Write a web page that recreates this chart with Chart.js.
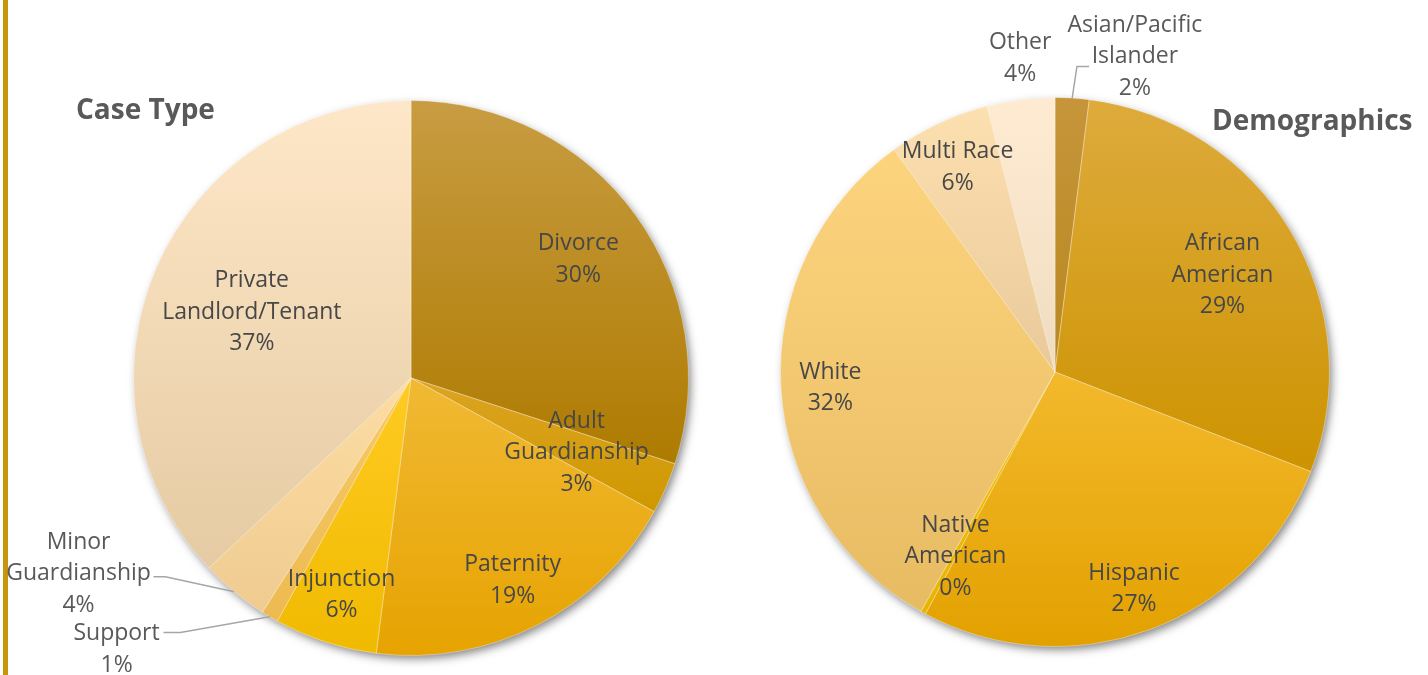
<!DOCTYPE html>
<html>
<head>
<meta charset="utf-8">
<title>Case Type and Demographics</title>
<script src="https://cdn.jsdelivr.net/npm/chart.js@4.4.1/dist/chart.umd.min.js"></script>
<style>
html, body { margin: 0; padding: 0; background: #fff; }
body { width: 1428px; height: 675px; position: relative; overflow: hidden; font-family: "Open Sans", sans-serif; }
.edge { position: absolute; left: 3px; top: 0; width: 5px; height: 675px; background: #C8960A; }
.box { position: absolute; top: 0; width: 714px; height: 675px; }
.title { position: absolute; font-weight: bold; color: #595959; font-size: 28px; line-height: 36px; white-space: nowrap; }
</style>
</head>
<body>
<div class="edge"></div>
<div class="box" style="left:0"><canvas id="caseChart"></canvas></div>
<div class="box" style="left:714px"><canvas id="demoChart"></canvas></div>
<div class="title" style="left:76px; top:90px">Case Type</div>
<div class="title" style="left:1212px; top:101px">Demographics</div>

<script>
// data
const caseLabels = [['Divorce'], ['Adult', 'Guardianship'], ['Paternity'], ['Injunction'], ['Support'], ['Minor', 'Guardianship'], ['Private', 'Landlord/Tenant']];
const caseValues = [30, 3, 19, 6, 1, 4, 37];

const demoLabels = [['Asian/Pacific', 'Islander'], ['African', 'American'], ['Hispanic'], ['Native', 'American'], ['White'], ['Multi Race'], ['Other']];
const demoValues = [2, 29, 27, 0.3, 32, 6, 4];

// colours (top / bottom of each slice's gradient)
const caseTop = ['#C89C42', '#DCA422', '#F1B934', '#FFCB22', '#F8CA66', '#FDDDA4', '#FEE7C8'];
const caseBottom = ['#AE7B00', '#CF9800', '#E6A300', '#F0BA00', '#EDBA50', '#EFCB90', '#E5CBA3'];
const demoTop = ['#C6953A', '#DEAB3C', '#F3B92C', '#F6C200', '#FDD47E', '#FDE0B0', '#FEEBD2'];
const demoBottom = ['#B88820', '#CD9300', '#E3A100', '#E8B400', '#E7BB62', '#E9C999', '#EFDCC0'];

// label placement: r = fraction of radius along the slice's mid angle,
// at = outside label centre in radius units, leader = elbow/end points in radius units
const casePlace = [
    { r: 0.745 }, { r: 0.65 }, { r: 0.806 }, { r: 0.81 },
    { at: [-1.061, 0.968], leader: [[-0.831, 0.917], [-0.892, 0.917]] },
    { at: [-1.198, 0.694], leader: [[-0.885, 0.716], [-0.928, 0.716]] },
    { r: 0.625 }
];
const demoPlace = [
    { at: [0.291, -1.16], leader: [[0.08, -1.113], [0.124, -1.113]] },
    { r: 0.71 }, { r: 0.83 }, { r: 0.755 }, { r: 0.82 }, { r: 0.836 },
    { at: [-0.127, -1.153] }
];

function sliceGradient(values, tops, bottoms) {
    return function (c) {
        const i = c.dataIndex;
        const area = c.chart.chartArea;
        if (!area || i === undefined) return bottoms[i || 0];
        const cx = (area.left + area.right) / 2;
        const cy = (area.top + area.bottom) / 2;
        const r = Math.min(area.width, area.height) / 2;
        const total = values.reduce((a, b) => a + b, 0);
        let before = 0;
        for (let k = 0; k < i; k++) before += values[k];
        const a0 = -Math.PI / 2 + before / total * 2 * Math.PI;
        const a1 = a0 + values[i] / total * 2 * Math.PI;
        const ys = [cy, cy + r * Math.sin(a0), cy + r * Math.sin(a1)];
        [-Math.PI / 2, Math.PI / 2, 3 * Math.PI / 2].forEach(k => {
            if (k >= a0 && k <= a1) ys.push(cy + r * Math.sin(k));
        });
        const y0 = Math.min(...ys);
        const y1 = Math.max(...ys) + 1;
        const g = c.chart.ctx.createLinearGradient(0, y0, 0, y1);
        g.addColorStop(0, tops[i]);
        g.addColorStop(1, bottoms[i]);
        return g;
    };
}

const shadowPlugin = {
    id: 'pieShadow',
    beforeDatasetsDraw(chart) {
        const arc = chart.getDatasetMeta(0).data[0];
        if (!arc) return;
        const ctx = chart.ctx;
        ctx.save();
        ctx.shadowColor = 'rgba(0,0,0,0.5)';
        ctx.shadowBlur = 10;
        ctx.shadowOffsetX = 3;
        ctx.shadowOffsetY = 4;
        ctx.beginPath();
        ctx.arc(arc.x, arc.y, arc.outerRadius - 1, 0, Math.PI * 2);
        ctx.fillStyle = '#d8a840';
        ctx.fill();
        ctx.restore();
    }
};

function labelPlugin(places) {
    return {
        id: 'sliceLabels',
        afterDatasetsDraw(chart) {
            const ctx = chart.ctx;
            const meta = chart.getDatasetMeta(0);
            const values = chart.data.datasets[0].data;
            const total = values.reduce((a, b) => a + b, 0);
            const lineH = 31.5;
            ctx.save();
            ctx.font = '23px "Open Sans", sans-serif';
            ctx.textAlign = 'center';
            ctx.textBaseline = 'middle';
            meta.data.forEach((arc, i) => {
                const place = places[i];
                const R = arc.outerRadius;
                const mid = (arc.startAngle + arc.endAngle) / 2;
                const lines = chart.data.labels[i].concat([Math.round(values[i] / total * 100) + '%']);
                let x, y;
                if (place.at) {
                    x = arc.x + place.at[0] * R;
                    y = arc.y + place.at[1] * R;
                    ctx.fillStyle = '#595959';
                } else {
                    x = arc.x + Math.cos(mid) * R * place.r;
                    y = arc.y + Math.sin(mid) * R * place.r;
                    ctx.fillStyle = '#474747';
                }
                if (place.leader) {
                    ctx.beginPath();
                    ctx.strokeStyle = '#A6A6A6';
                    ctx.lineWidth = 1.5;
                    ctx.moveTo(arc.x + Math.cos(mid) * R, arc.y + Math.sin(mid) * R);
                    place.leader.forEach(p => ctx.lineTo(arc.x + p[0] * R, arc.y + p[1] * R));
                    ctx.stroke();
                }
                lines.forEach((t, k) => {
                    ctx.fillText(t, x, y + 3 + (k - (lines.length - 1) / 2) * lineH);
                });
            });
            ctx.restore();
        }
    };
}

function makePie(id, labels, values, tops, bottoms, places, padding) {
    return new Chart(document.getElementById(id), {
        type: 'pie',
        data: {
            labels: labels,
            datasets: [{
                data: values,
                backgroundColor: sliceGradient(values, tops, bottoms),
                borderColor: 'rgba(255,255,255,0.35)',
                borderWidth: 1,
                hoverOffset: 0
            }]
        },
        options: {
            responsive: true,
            maintainAspectRatio: false,
            animation: false,
            layout: { padding: padding },
            plugins: {
                legend: { display: false },
                tooltip: { enabled: true }
            }
        },
        plugins: [shadowPlugin, labelPlugin(places)]
    });
}

makePie('caseChart', caseLabels, caseValues, caseTop, caseBottom, casePlace,
    { left: 133, right: 25, top: 100, bottom: 19 });
makePie('demoChart', demoLabels, demoValues, demoTop, demoBottom, demoPlace,
    { left: 66, right: 98, top: 97, bottom: 28 });
</script>
</body>
</html>
